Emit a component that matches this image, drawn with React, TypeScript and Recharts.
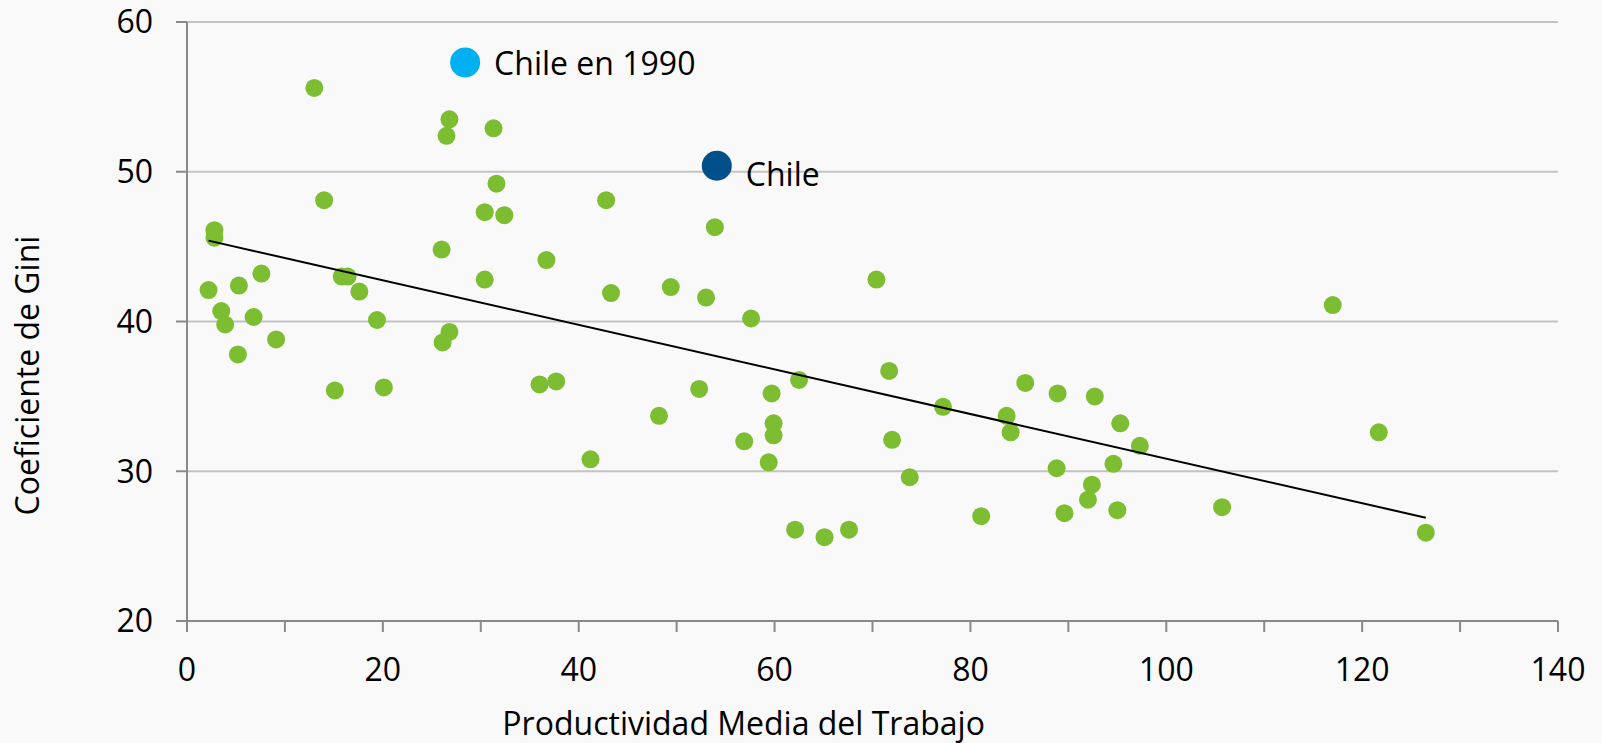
import { ScatterChart, Scatter, XAxis, YAxis, CartesianGrid, Label } from 'recharts';

// productividad media del trabajo (eje x) y coeficiente de Gini (eje y)
const productividad = [
  13.0, 26.8, 26.5, 31.3, 14.0, 42.8, 31.6, 30.4, 32.4, 53.9,
  2.8, 2.8, 26.0, 36.7, 2.2, 5.3, 7.6, 15.8, 16.4, 17.6,
  30.4, 43.3, 49.4, 53.0, 70.4, 117.0, 3.5, 3.9, 6.8, 19.4,
  57.6, 9.1, 5.2, 26.1, 26.8, 15.1, 20.1, 36.0, 37.7, 52.3,
  62.5, 59.7, 71.7, 85.6, 88.9, 92.7, 77.2, 83.7, 84.1, 95.3,
  97.3, 48.2, 59.9, 59.9, 56.9, 72.0, 121.7, 41.2, 59.4, 73.8,
  88.8, 94.6, 92.4, 92.0, 89.6, 95.0, 105.7, 81.1, 62.1, 67.6,
  65.1, 126.5,
];
const gini = [
  55.6, 53.5, 52.4, 52.9, 48.1, 48.1, 49.2, 47.3, 47.1, 46.3,
  46.1, 45.6, 44.8, 44.1, 42.1, 42.4, 43.2, 43.0, 43.0, 42.0,
  42.8, 41.9, 42.3, 41.6, 42.8, 41.1, 40.7, 39.8, 40.3, 40.1,
  40.2, 38.8, 37.8, 38.6, 39.3, 35.4, 35.6, 35.8, 36.0, 35.5,
  36.1, 35.2, 36.7, 35.9, 35.2, 35.0, 34.3, 33.7, 32.6, 33.2,
  31.7, 33.7, 33.2, 32.4, 32.0, 32.1, 32.6, 30.8, 30.6, 29.6,
  30.2, 30.5, 29.1, 28.1, 27.2, 27.4, 27.6, 27.0, 26.1, 26.1,
  25.6, 25.9,
];

const chileNombres = ['Chile en 1990', 'Chile'];
const chileProductividad = [28.4, 54.1];
const chileGini = [57.3, 50.4];
const chileColores = ['#00b0f0', '#004f8b'];

// línea de tendencia
const tendenciaX = [2.2, 126.5];
const tendenciaY = [45.4, 26.9];

const xTicks = [0, 10, 20, 30, 40, 50, 60, 70, 80, 90, 100, 110, 120, 130, 140];
const yTicks = [20, 30, 40, 50, 60];

const paises = productividad.map((x, i) => ({ x, y: gini[i] }));
const chile = chileNombres.map((name, i) => ({
  name,
  x: chileProductividad[i],
  y: chileGini[i],
  color: chileColores[i],
}));
const tendencia = tendenciaX.map((x, i) => ({ x, y: tendenciaY[i] }));

const font = 'Open Sans, sans-serif';
const fontSize = 32;
const axisColor = '#898989';

export default function App() {
  return (
    <div style={{ position: 'fixed', left: 0, top: 0, width: 1602, height: 743, background: '#f9f9f9' }}>
      <ScatterChart width={1602} height={743} margin={{ top: 22, right: 44, bottom: 0, left: 0 }}>
        <CartesianGrid vertical={false} stroke="#c3c3c3" strokeWidth={2} />
        <XAxis
          type="number"
          dataKey="x"
          domain={[0, 140]}
          ticks={xTicks}
          interval={0}
          tickFormatter={(v: number) => (v % 20 === 0 ? String(v) : '')}
          height={122}
          tickSize={11}
          tickMargin={26}
          axisLine={{ stroke: axisColor, strokeWidth: 2 }}
          tickLine={{ stroke: axisColor, strokeWidth: 2 }}
          tick={{ fontSize, fill: '#000', fontFamily: font }}
        >
          <Label
            content={({ viewBox }: any) => (
              <text
                x={viewBox.x + viewBox.width * 0.406}
                y={viewBox.y + 114}
                textAnchor="middle"
                fontSize={fontSize}
                fontFamily={font}
                fill="#000"
              >
                Productividad Media del Trabajo
              </text>
            )}
          />
        </XAxis>
        <YAxis
          type="number"
          dataKey="y"
          domain={[20, 60]}
          ticks={yTicks}
          interval={0}
          width={187}
          tickSize={11}
          tickMargin={23}
          axisLine={{ stroke: axisColor, strokeWidth: 2 }}
          tickLine={{ stroke: axisColor, strokeWidth: 2 }}
          tick={{ fontSize, fill: '#000', fontFamily: font }}
        >
          <Label
            content={({ viewBox }: any) => {
              const cy = viewBox.y + viewBox.height / 2 + 54;
              return (
                <text
                  x={39}
                  y={cy}
                  transform={`rotate(-90, 39, ${cy})`}
                  textAnchor="middle"
                  fontSize={fontSize}
                  fontFamily={font}
                  fill="#000"
                >
                  Coeficiente de Gini
                </text>
              );
            }}
          />
        </YAxis>
        <Scatter
          data={paises}
          isAnimationActive={false}
          shape={(p: any) => <circle cx={p.cx} cy={p.cy} r={9} fill="#7dbd32" />}
        />
        <Scatter
          data={tendencia}
          isAnimationActive={false}
          line={{ stroke: '#000', strokeWidth: 2 }}
          lineType="joint"
          shape={() => <g />}
        />
        <Scatter
          data={chile}
          isAnimationActive={false}
          shape={(p: any) => (
            <g>
              <circle cx={p.cx} cy={p.cy} r={15} fill={p.payload.color} />
              <text
                x={p.cx + 29}
                y={p.cy + (p.payload.name === 'Chile' ? 8 : 0)}
                dominantBaseline="central"
                fontSize={fontSize}
                fontFamily={font}
                fill="#000"
              >
                {p.payload.name}
              </text>
            </g>
          )}
        />
      </ScatterChart>
    </div>
  );
}
